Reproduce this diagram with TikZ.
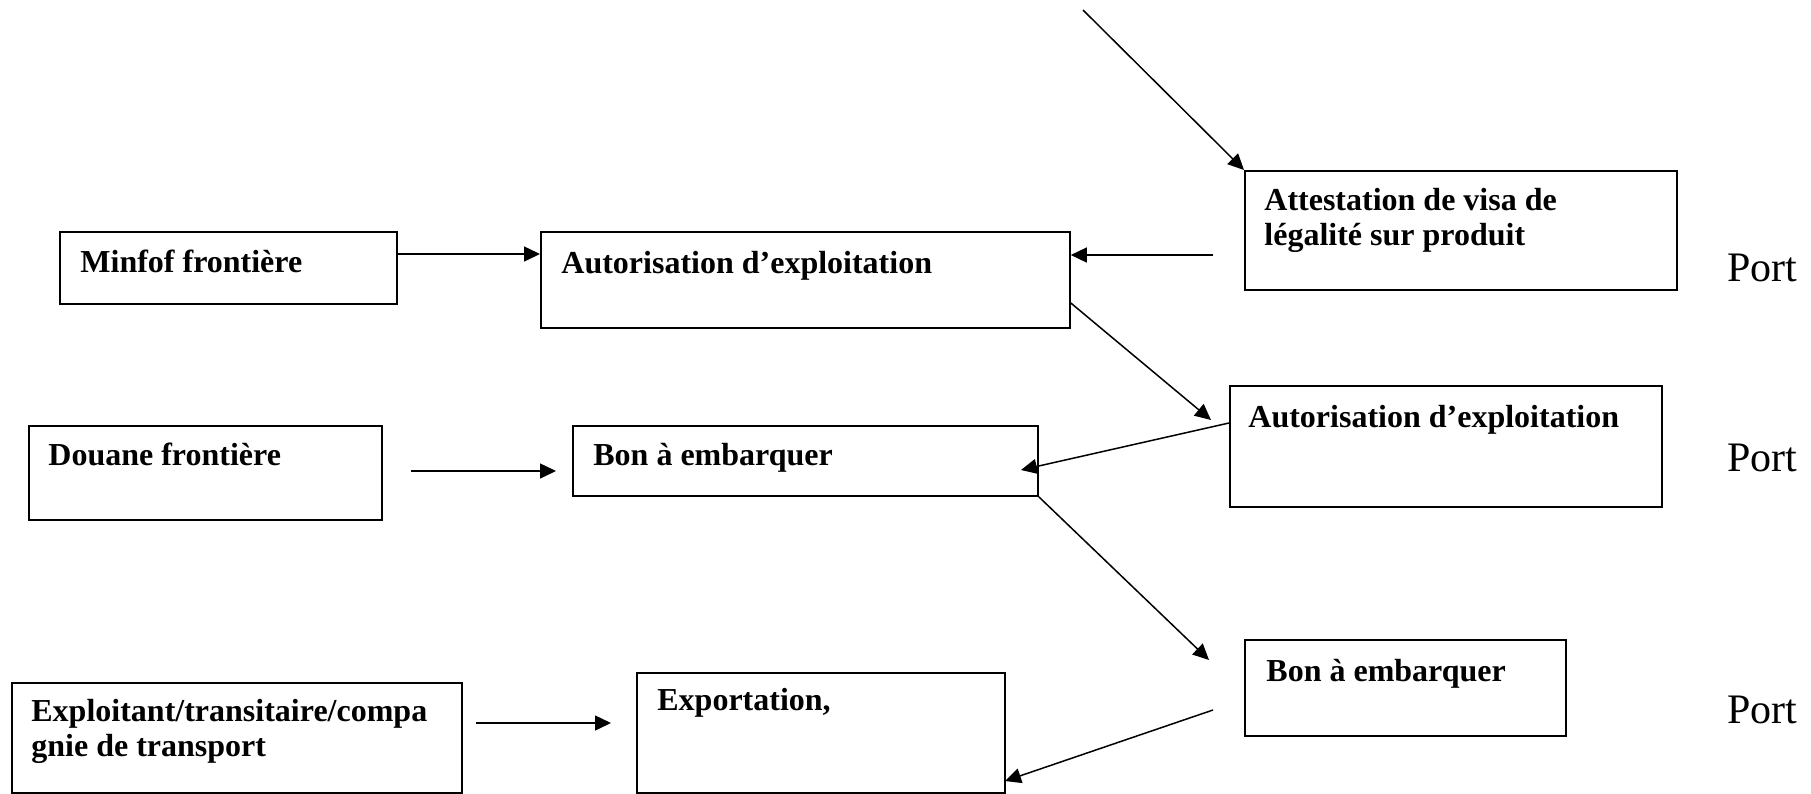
\documentclass[tikz,border=0pt]{standalone}
\usepackage{fontspec}
\setmainfont{Liberation Serif}
\usetikzlibrary{arrows.meta}
\tikzset{
  boxnode/.style={draw, line width=0.9pt, inner sep=0pt, anchor=north west},
  lbl/.style={anchor=base west, inner sep=0pt, font=\fontsize{16}{17.5}\selectfont\bfseries, align=left},
  portlbl/.style={anchor=base west, inner sep=0pt, font=\fontsize{21}{25}\selectfont},
  conn/.style={line width=0.75pt, -{Triangle[length=8pt,width=7.5pt]}},
}
\begin{document}
\begin{tikzpicture}[x=0.5pt,y=-0.5pt]
\useasboundingbox (0,0) rectangle (1811,793);
% boxes
\node[boxnode, minimum width=168.5pt, minimum height=36pt] (minfof) at (59,231) {};
\node[boxnode, minimum width=264.5pt, minimum height=48pt] (auto1) at (540,231) {};
\node[boxnode, minimum width=216pt, minimum height=59.5pt] (attest) at (1244,170) {};
\node[boxnode, minimum width=176.5pt, minimum height=47pt] (douane) at (28,425) {};
\node[boxnode, minimum width=232.5pt, minimum height=35pt] (bon1) at (572,425) {};
\node[boxnode, minimum width=216pt, minimum height=60.5pt] (auto2) at (1229,385) {};
\node[boxnode, minimum width=160.5pt, minimum height=48pt] (bon2) at (1244,639) {};
\node[boxnode, minimum width=225pt, minimum height=55pt] (exploit) at (11,682) {};
\node[boxnode, minimum width=184pt, minimum height=60pt] (export) at (636,672) {};
% texts
\node[lbl] (tminfof) at (80,272) {Minfof frontière};
\node[lbl] (tauto1) at (561,273) {Autorisation d’exploitation};
\node[lbl] (tattest) at (1264,245) {Attestation de visa de\\légalité sur produit};
\node[lbl] (tdouane) at (48,465) {Douane frontière};
\node[lbl] (tbon1) at (593,465) {Bon à embarquer};
\node[lbl] (tauto2) at (1248,427) {Autorisation d’exploitation};
\node[lbl] (tbon2) at (1266,681) {Bon à embarquer};
\node[lbl] (texploit) at (31,756) {Exploitant/transitaire/compa\\gnie de transport};
\node[lbl] (texport) at (657,710) {Exportation,};
\node[portlbl] (port1) at (1727,281) {Port};
\node[portlbl] (port2) at (1727,471) {Port};
\node[portlbl] (port3) at (1727,723) {Port};
% free coordinates
\coordinate (ya) at (0,254);
\coordinate (topstart) at (1083,10);
\coordinate (c1) at (1213,255);
\coordinate (ys) at (0,303);
\coordinate (tip2) at (1211,420);
\coordinate (yb) at (0,423);
\coordinate (tip3) at (1021,470);
\coordinate (d1) at (411,471);
\coordinate (d2) at (556,471);
\coordinate (tip4) at (1209,660);
\coordinate (c2) at (1213,710);
\coordinate (tip5) at (1005,781);
\coordinate (e1) at (476,723);
\coordinate (e2) at (611,723);
% connectors
\draw[conn] (minfof.east |- ya) -- (auto1.west |- ya);
\draw[conn] (topstart) -- (attest.north west);
\draw[conn] (c1) -- (auto1.east |- c1);
\draw[conn] (auto1.east |- ys) -- (tip2);
\draw[conn] (auto2.west |- yb) -- (tip3);
\draw[conn] (d1) -- (d2);
\draw[conn] (bon1.south east) -- (tip4);
\draw[conn] (c2) -- (tip5);
\draw[conn] (e1) -- (e2);
\end{tikzpicture}
\end{document}
